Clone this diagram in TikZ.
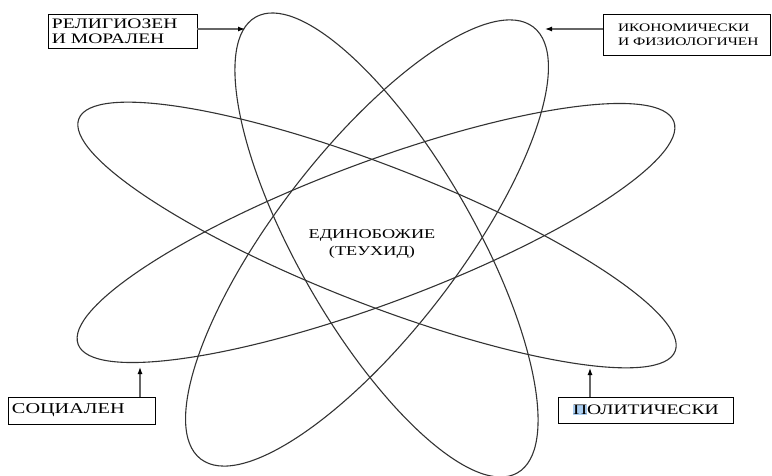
\documentclass[tikz,border=0pt]{standalone}
\usepackage{fontspec}
\setmainfont[FakeStretch=1.35]{Liberation Serif}
\usetikzlibrary{arrows.meta}
\definecolor{selblue}{RGB}{170,205,240}
\begin{document}
\begin{tikzpicture}[x=1pt,y=1pt]
\tikzset{
  orbit/.style={draw=black!80, line width=1.1pt},
  labelbox/.style={draw=black, line width=0.9pt, inner xsep=4pt, inner ysep=0pt, align=left},
  arr/.style={draw=black!60, line width=1.2pt, -{Latex[length=7pt,width=5pt,color=black]}},
}
\useasboundingbox (0,0) rectangle (772,475);
% orbits
\draw[orbit, rotate around={-60.1:(386.5,230)}] (386.5,230) ellipse [x radius=262.8, y radius=87.9];
\draw[orbit, rotate around={52.4:(367,232)}] (367,232) ellipse [x radius=272.6, y radius=91.4];
\draw[orbit, rotate around={-21.3:(377,240)}] (377,240) ellipse [x radius=320, y radius=69];
\draw[orbit, rotate around={20.5:(376,242)}] (376,242) ellipse [x radius=318, y radius=70.6];
% centre
\node[font=\fontsize{13.5}{17}\selectfont, align=center] (core) at (372,231.5) {ЕДИНОБОЖИЕ\\(ТЕУХИД)};
% boxes
\node[labelbox, text width=141pt, minimum height=34pt, font=\fontsize{14.5}{15}\selectfont] (rel) at (122.5,444) {РЕЛИГИОЗЕН\\И~МОРАЛЕН};
\node[labelbox, text width=159pt, minimum height=41pt, font=\fontsize{11.5}{14}\selectfont] (eco) at (686.5,440.5) {\hspace*{11pt}ИКОНОМИЧЕСКИ\\\hspace*{11pt}И~ФИЗИОЛОГИЧЕН};
\node[labelbox, text width=139pt, minimum height=27pt, font=\fontsize{15}{16}\selectfont] (soc) at (81.5,64.5) {СОЦИАЛЕН};
\node[labelbox, text width=167pt, minimum height=26pt, font=\fontsize{14.5}{16}\selectfont] (pol) at (645.5,65) {\hspace*{11pt}{\setlength{\fboxsep}{0pt}\colorbox{selblue}{П}}ОЛИТИЧЕСКИ};
% arrow tips on the orbits
\coordinate (t1) at (245,446);
\coordinate (t2) at (545,446);
\coordinate (t3) at (140,108);
\coordinate (t4) at (590,107);
\draw[arr] (rel.east |- t1) -- (t1);
\draw[arr] (eco.west |- t2) -- (t2);
\draw[arr] (soc.north -| t3) -- (t3);
\draw[arr] (pol.north -| t4) -- (t4);
\end{tikzpicture}
\end{document}
